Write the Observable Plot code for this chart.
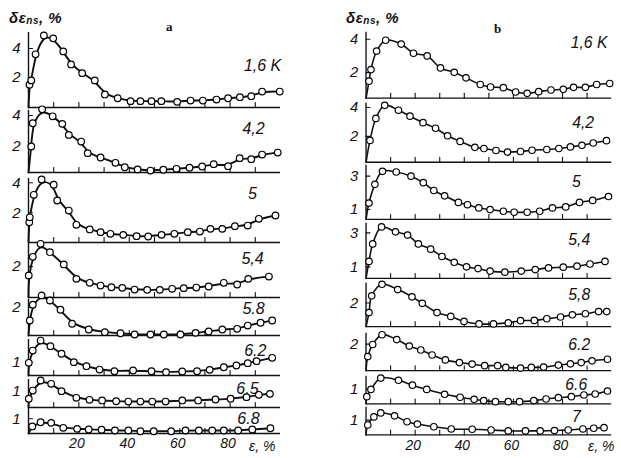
<!DOCTYPE html>
<html><head><meta charset="utf-8">
<script src="https://cdn.jsdelivr.net/npm/d3@7"></script>
<script src="https://cdn.jsdelivr.net/npm/@observablehq/plot@0.6"></script>
<style>
body{margin:0;background:#fff;}
#root{position:relative;width:621px;height:458px;overflow:hidden;background:#fff;font-family:"Liberation Sans",sans-serif;color:#111;}
.abs{position:absolute;}
.hdr{font-style:italic;font-weight:bold;font-size:15px;letter-spacing:0.5px;white-space:nowrap;}
.hdr sub{font-size:10px;vertical-align:-1px;}
.pl{font-family:"Liberation Serif",serif;font-weight:bold;font-size:13px;}
.ax{font-style:italic;font-size:14px;white-space:nowrap;}
</style></head><body><div id="root"></div>
<script>
// ---- data ----
const xTicks = [10, 20, 30, 40, 50, 60, 70, 80, 90];
const xLabels = [20, 40, 60, 80];

// panel a  [strain ε %, δε_ns %]
const a_1_6K = [[0.4,1.5],[1.1,1.8],[2.8,3.6],[6.1,4.9],[9.8,4.7],[13.8,3.8],[16.9,2.9],[21.3,2.3],[26.3,1.8],[30.3,0.83],[35.4,0.57],[40.5,0.37],[44.4,0.37],[48.8,0.37],[52.7,0.37],[59,0.32],[64.3,0.41],[69.2,0.41],[74.6,0.48],[79.2,0.57],[83.9,0.64],[88.4,0.71],[92.7,1.03],[99.7,1.03]];
const a_4_2 = [[1.1,2.0],[1.7,3.5],[5.4,4.4],[9.6,3.95],[13.4,3.46],[16,2.75],[20.9,2.32],[23.5,1.57],[28.6,1.29],[34.5,0.95],[38.2,0.66],[43.3,0.52],[48.4,0.45],[53.5,0.5],[58.7,0.56],[63.9,0.63],[68.9,0.71],[73.5,0.86],[79.2,0.73],[83.8,1.25],[88.4,1.18],[92.7,1.48],[98.9,1.61]];
const a_5 = [[0.3,1.37],[0.5,1.7],[2.1,3.2],[5.2,4.22],[10,3.87],[11.4,2.82],[16,2.15],[19,1.2],[24.3,0.89],[28.6,0.71],[32.5,0.6],[37.6,0.53],[42.9,0.44],[47.5,0.42],[52.8,0.53],[57.9,0.6],[63.2,0.71],[68,0.75],[72.2,0.93],[76.9,0.93],[81.9,1.11],[87,1.15],[91.4,1.6],[98,1.82]];
const a_5_4 = [[0.1,1.42],[1.7,2.64],[4.8,3.49],[8.5,2.94],[14,2.14],[19,1.2],[24.3,0.94],[28.6,0.76],[32.9,0.65],[37.2,0.61],[42.1,0.5],[47.1,0.48],[52.1,0.48],[57,0.55],[61.6,0.59],[66.6,0.63],[71.5,0.7],[77.5,0.94],[82.8,0.83],[87.2,1.2],[95.4,1.35]];
const a_5_8 = [[0.5,1.07],[1.7,2.2],[5.2,2.86],[8.5,2.5],[12.7,1.84],[17.3,0.84],[23.9,0.43],[30.3,0.24],[36.5,0.16],[42.1,0.07],[48.4,0.07],[53.7,0.07],[60.3,0.07],[66.3,0.19],[71.5,0.29],[76.9,0.43],[82.8,0.48],[87,0.71],[92.1,0.91],[96.7,1.07]];
const a_6_2 = [[0.1,0.94],[1.7,1.85],[4.8,2.59],[8.7,2.17],[13.1,1.61],[18,0.99],[23,0.69],[28.2,0.44],[34.1,0.32],[41.5,0.37],[48.8,0.32],[54.6,0.25],[61,0.3],[66.9,0.32],[71.9,0.42],[77.5,0.61],[82.5,0.74],[87,0.91],[90.5,1.06],[96.7,1.31]];
const a_6_5 = [[0.1,0.54],[1.7,1.06],[4.8,1.7],[9,1.49],[13.1,1.02],[19,0.6],[24.2,0.47],[29.2,0.43],[34.8,0.38],[39.6,0.36],[44.4,0.36],[49.1,0.36],[54.4,0.36],[61,0.43],[67.3,0.43],[74.2,0.49],[80.2,0.54],[86.5,0.64],[91.4,0.79],[95.8,0.85]];
const a_6_8 = [[1.5,0.49],[4.8,0.77],[9,0.73],[13.8,0.4],[19.3,0.33],[23.9,0.29],[29,0.27],[34.3,0.22],[39.6,0.22],[44.4,0.17],[49.7,0.17],[56.6,0.17],[62.3,0.22],[67.6,0.22],[72.9,0.22],[77.5,0.22],[83.2,0.22],[88.8,0.29],[96,0.37]];

// panel b
const b_1_6K = [[1.2,1.49],[2.0,2.18],[4.3,3.29],[8,3.94],[14.3,3.71],[19.3,3.16],[24.9,3.0],[30.3,2.28],[35.9,2.02],[40.7,1.69],[46.5,1.29],[50.7,1.14],[55.9,1.1],[60.9,0.84],[65.6,0.76],[70.3,0.86],[75.3,0.96],[80.3,1.0],[84.5,1.12],[89.3,1.12],[93.9,1.29],[99.2,1.35]];
const b_4_2 = [[1.6,1.72],[4,3.24],[7.6,4.15],[13.2,3.81],[17.9,3.4],[23.2,2.95],[28.3,2.56],[33.2,2.04],[38.3,1.65],[44.3,1.24],[48,1.16],[52.9,1.02],[57.6,0.91],[62.9,0.95],[67.6,1.04],[73.6,1.09],[78.5,1.16],[83.2,1.27],[87.9,1.38],[92.5,1.54],[97.9,1.7]];
const b_5 = [[1.2,1.39],[3.6,2.51],[6.7,3.29],[12.3,3.25],[18.3,3.0],[23.3,2.61],[27.6,2.14],[32,1.82],[37.6,1.43],[41.3,1.29],[45.9,1.1],[50.5,1.0],[55.9,0.9],[60.3,0.84],[65.6,0.84],[70.7,0.9],[75.9,1.1],[81.3,1.16],[86.9,1.43],[92.3,1.55],[98.7,1.78]];
const b_5_4 = [[1.2,1.32],[2.7,2.35],[6.3,3.35],[12,3.06],[16.9,2.87],[21.3,2.35],[26.3,2.04],[30.9,1.61],[35.9,1.27],[40.9,1.0],[45.6,0.9],[50.5,0.75],[56.5,0.69],[63.2,0.75],[68.9,0.84],[74.3,0.94],[80.3,0.98],[85.9,1.04],[91.2,1.17],[97.3,1.32]];
const b_5_8 = [[1.2,1.35],[2.3,2.49],[6.5,3.27],[12.9,2.91],[18.7,2.42],[22.9,1.98],[28.9,1.35],[34.5,1.09],[39.9,0.75],[46,0.58],[51.9,0.58],[57.9,0.65],[62.9,0.8],[68.5,0.82],[73.6,0.93],[79.2,1.05],[84,1.2],[89.3,1.27],[94.7,1.42],[98,1.42]];
const b_6_2 = [[0.7,1.21],[2.7,1.98],[6.5,2.6],[12.5,2.29],[17.6,1.88],[22.3,1.63],[26.9,1.31],[32.3,1.0],[38,0.83],[43.2,0.73],[48.3,0.63],[53.6,0.63],[56.9,0.52],[62.9,0.48],[67.3,0.52],[72.3,0.54],[78.3,0.67],[83.2,0.75],[87.6,0.83],[92,0.94],[98.3,1.04]];
const b_6_6 = [[0.3,0.49],[2,0.98],[6,1.75],[13.2,1.6],[18.9,1.27],[24.7,0.98],[32,0.65],[38.3,0.45],[44,0.31],[47.9,0.22],[52.7,0.15],[57.9,0.15],[62.5,0.15],[68.3,0.22],[73.3,0.33],[78.3,0.42],[83.6,0.49],[88.7,0.6],[93.3,0.67],[98.3,0.87]];
const b_7 = [[0.7,0.67],[3.2,1.22],[6,1.49],[11.6,1.29],[16.7,0.89],[20.9,0.73],[27.6,0.55],[34.7,0.4],[43.2,0.38],[50.9,0.33],[57.9,0.27],[64.9,0.27],[70.9,0.27],[76.7,0.29],[82.3,0.33],[88.3,0.4],[92.7,0.45],[96.9,0.49]];

const labelsA = ["1,6 K", "4,2", "5", "5,4", "5.8", "6.2", "6.5", "6.8"];
const labelsB = ["1,6 K", "4,2", "5", "5,4", "5,8", "6.2", "6.6", "7"];
const yTicksA = [[2,4],[2,4],[2,4],[2],[2],[1],[1],[1]];
const yTicksB = [[2,4],[2,4],[1,3],[1,3],[2],[2],[1],[1]];
const seriesA = [a_1_6K, a_4_2, a_5, a_5_4, a_5_8, a_6_2, a_6_5, a_6_8];
const seriesB = [b_1_6K, b_4_2, b_5, b_5_4, b_5_8, b_6_2, b_6_6, b_7];

// ---- layout (pixels) ----
const panelA = {x0: 28, x100: 280, curve: "basis", lw: 1.9};
const panelB = {x0: 366, x100: 616, curve: "catmull-rom", lw: 1.6};
const layA = [
  {top:32, base:107, zero:106, ppu:14.5, lx:92.9, ly:33},
  {top:110, base:172, zero:177, ppu:15.5, lx:89.3, ly:18},
  {top:178, base:242, zero:242.3, ppu:15, lx:88.9, ly:15},
  {top:243, base:297, zero:296.7, ppu:15.3, lx:88.9, ly:15},
  {top:299, base:335, zero:335, ppu:14, lx:89.3, ly:9},
  {top:339, base:375, zero:375, ppu:13.5, lx:90, ly:11},
  {top:379, base:407, zero:406.7, ppu:15.7, lx:86.9, ly:9},
  {top:408, base:433, zero:433.3, ppu:15, lx:87.3, ly:10}
];
const layB = [
  {top:32, base:99, zero:107, ppu:17, lx:90.8, ly:11},
  {top:103, base:163, zero:166, ppu:14.7, lx:88.4, ly:20},
  {top:165, base:220, zero:227, ppu:17, lx:85.6, ly:17},
  {top:223, base:279, zero:284.6, ppu:17.3, lx:86.8, ly:17},
  {top:283, base:327, zero:333, ppu:15, lx:86.8, ly:12},
  {top:333, base:371, zero:376, ppu:16, lx:86.8, ly:12},
  {top:376, base:404, zero:404, ppu:15, lx:85.6, ly:9},
  {top:407, base:435, zero:435, ppu:15, lx:85.6, ly:10}
];

const root = document.getElementById("root");
const tickShape = {draw(ctx, l) { ctx.moveTo(0, 0); ctx.lineTo(0, -l); }};

function subplot(P, L, series, yTicks, label, isLast) {
  const mt = 8, mb = isLast ? 22 : 4, ml = 26, mr = 10;
  const y0 = (L.zero - L.base) / L.ppu, y1 = (L.zero - L.top) / L.ppu;
  const w = P.x100 - P.x0 + ml + mr;
  const h = L.base - L.top + mt + mb;
  const marks = [
    Plot.ruleY([y0], {x1: 0, x2: 100, strokeWidth: 1.4}),
    Plot.ruleX([0], {y1: y0, y2: y1, strokeWidth: 1.4}),
    Plot.vector(xTicks, {x: d => d, y: y0, length: 5, rotate: 0, anchor: "start", shape: tickShape, strokeWidth: 1.1}),
    Plot.vector(yTicks, {x: 0, y: d => d, length: 4, rotate: 90, anchor: "start", shape: tickShape, strokeWidth: 1.1}),
    Plot.axisY(yTicks, {tickSize: 0, tickPadding: 8, fontSize: 15, label: null}),
    Plot.line([[0, y0], ...series], {x: d => d[0], y: d => d[1], curve: P.curve, strokeWidth: P.lw}),
    Plot.dot(series, {x: d => d[0], y: d => d[1], r: 3.3, fill: "white", stroke: "black", strokeWidth: 1.2}),
    Plot.text([label], {x: L.lx, frameAnchor: "top", dy: L.ly, text: d => d, fontSize: 16, lineAnchor: "middle", textAnchor: "middle"})
  ];
  if (isLast) marks.push(Plot.axisX(xLabels, {tickSize: 0, tickPadding: 5, fontSize: 14, dx: -2, label: null}));
  const svg = Plot.plot({
    width: w, height: h,
    marginTop: mt, marginBottom: mb, marginLeft: ml, marginRight: mr,
    x: {domain: [0, 100], axis: null},
    y: {domain: [y0, y1], axis: null},
    style: {background: "transparent", overflow: "visible", fontFamily: "Liberation Sans, sans-serif", fontStyle: "italic", color: "#111"},
    marks
  });
  const div = document.createElement("div");
  div.className = "abs";
  div.style.left = (P.x0 - ml) + "px";
  div.style.top = (L.top - mt) + "px";
  div.appendChild(svg);
  root.appendChild(div);
}

for (let i = 0; i < 8; i++) {
  subplot(panelA, layA[i], seriesA[i], yTicksA[i], labelsA[i], i === 7);
  subplot(panelB, layB[i], seriesB[i], yTicksB[i], labelsB[i], i === 7);
}

function addHtml(html, cls, left, top) {
  const d = document.createElement("div");
  d.className = "abs " + cls;
  d.innerHTML = html;
  d.style.left = left + "px";
  d.style.top = top + "px";
  root.appendChild(d);
}
addHtml("δε<sub>ns</sub>, %", "hdr", 9, 9);
addHtml("δε<sub>ns</sub>, %", "hdr", 346, 9);
addHtml("a", "pl", 166, 19);
addHtml("b", "pl", 494, 21);
addHtml("ε, %", "ax", 249, 438);
addHtml("ε, %", "ax", 588, 438);
</script></body></html>
